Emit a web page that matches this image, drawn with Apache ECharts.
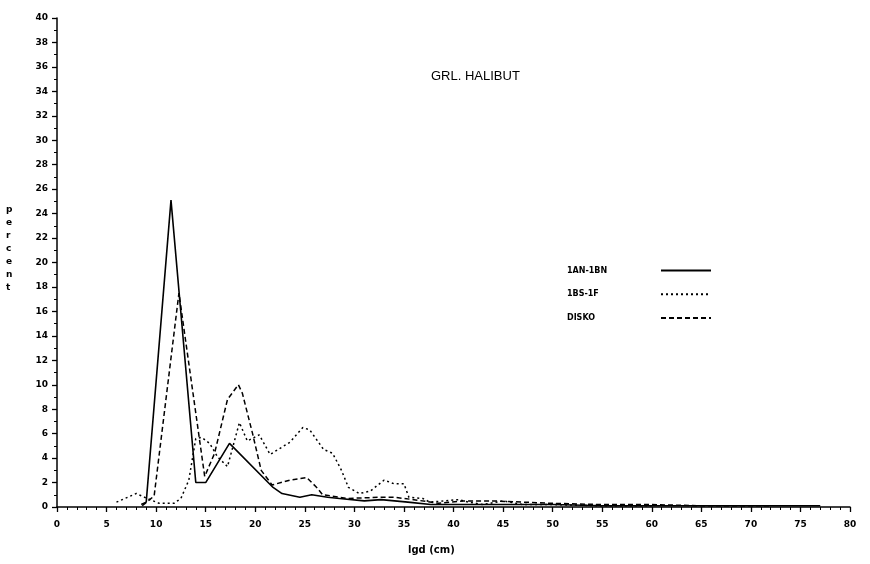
<!DOCTYPE html>
<html>
<head>
<meta charset="utf-8">
<script src="https://cdn.jsdelivr.net/npm/echarts@6/dist/echarts.min.js"></script>
<style>
  html, body { margin: 0; padding: 0; background: #fff; }
  #chart { width: 870px; height: 564px; }
</style>
</head>
<body>
<div id="chart"></div>
<script>
'use strict';

// 1AN-1BN (solid)
var lenAN = [8.5, 9.0, 11.5, 14.0, 15.0, 17.4, 21.8, 22.7, 24.5, 25.7, 27.3, 28.5, 31.0, 32.7, 35.4, 37.7, 40, 45, 50, 55, 60, 65, 70, 77];
var pctAN = [0.2, 0.4, 25.1, 2.0, 2.0, 5.2, 1.6, 1.1, 0.8, 1.0, 0.8, 0.7, 0.5, 0.6, 0.4, 0.2, 0.2, 0.2, 0.2, 0.1, 0.1, 0.1, 0.1, 0.1];

// 1BS-1F (dotted)
var lenBS = [6.0, 8.0, 9.1, 10.3, 11.8, 12.5, 13.3, 14.0, 14.6, 15.4, 16.2, 17.2, 18.4, 19.2, 20.4, 21.5, 23.5, 24.8, 25.5, 26.9, 27.8, 28.7, 29.4, 30.5, 31.6, 33.0, 34.0, 35.0, 35.5, 36.9, 37.6, 40.5, 41.5, 43.0, 45.0, 47.0, 50.0, 55.0, 60.0];
var pctBS = [0.4, 1.1, 0.7, 0.3, 0.3, 0.7, 2.2, 5.6, 5.7, 5.2, 4.1, 3.3, 6.9, 5.4, 5.9, 4.3, 5.3, 6.5, 6.3, 4.7, 4.4, 3.0, 1.6, 1.1, 1.3, 2.2, 1.9, 1.9, 0.8, 0.7, 0.4, 0.6, 0.4, 0.2, 0.5, 0.2, 0.2, 0.1, 0.1];

// DISKO (dashed)
var lenDI = [8.6, 9.8, 12.3, 14.9, 15.9, 17.2, 18.3, 18.7, 19.7, 20.6, 21.7, 23.5, 25.2, 26.2, 26.8, 29.3, 32.7, 34.0, 36.0, 38.5, 41.0, 44.0, 47.0, 50.0, 55.0, 60.0, 65.0, 72.0];
var pctDI = [0.1, 0.9, 17.5, 2.5, 4.4, 8.8, 10.0, 9.3, 6.1, 3.0, 1.8, 2.2, 2.4, 1.6, 1.0, 0.7, 0.8, 0.8, 0.6, 0.3, 0.5, 0.5, 0.4, 0.3, 0.2, 0.2, 0.1, 0.1];

function pairs(xs, ys) {
    var out = [];
    for (var i = 0; i < xs.length; i++) {
        out.push([xs[i], ys[i]]);
    }
    return out;
}

var labelFont = {
    color: '#000',
    fontFamily: 'DejaVu Sans',
    fontWeight: 'bold',
    fontSize: 9
};

var myChart = echarts.init(document.getElementById('chart'));

var option = {
    backgroundColor: '#fff',
    animation: false,
    grid: { left: 57, right: 20, top: 18, bottom: 57 },
    title: {
        text: 'GRL. HALIBUT',
        left: 426,
        top: 65,
        textStyle: { color: '#000', fontFamily: 'Liberation Sans', fontWeight: 'normal', fontSize: 13 }
    },
    legend: {
        orient: 'vertical',
        left: 562,
        top: 260,
        align: 'right',
        itemWidth: 50,
        itemHeight: 14,
        itemGap: 12.5,
        itemStyle: { opacity: 0 },
        data: ['1AN-1BN', '1BS-1F', 'DISKO'],
        formatter: '{a|{name}}',
        textStyle: {
            color: '#000',
            fontFamily: 'DejaVu Sans',
            fontWeight: 'bold',
            fontSize: 8,
            rich: {
                a: { width: 89, align: 'left', fontFamily: 'DejaVu Sans', fontWeight: 'bold', fontSize: 8, color: '#000' }
            }
        }
    },
    xAxis: {
        type: 'value',
        min: 0,
        max: 80,
        interval: 5,
        axisLine: { lineStyle: { color: '#000', width: 1.5 } },
        axisTick: { length: 5, lineStyle: { color: '#000', width: 1.3 } },
        minorTick: { show: true, splitNumber: 5, length: 3, lineStyle: { color: '#000' } },
        axisLabel: Object.assign({ margin: 13 }, labelFont),
        splitLine: { show: false }
    },
    yAxis: {
        type: 'value',
        min: 0,
        max: 40,
        interval: 2,
        axisLine: { show: true, lineStyle: { color: '#000', width: 1.5 } },
        axisTick: { show: true, length: 5, lineStyle: { color: '#000', width: 1.3 } },
        minorTick: { show: true, splitNumber: 2, length: 3, lineStyle: { color: '#000' } },
        axisLabel: Object.assign({ margin: 9 }, labelFont),
        splitLine: { show: false }
    },
    graphic: [{
        type: 'text',
        left: 6,
        top: 203,
        style: {
            text: 'p\ne\nr\nc\ne\nn\nt',
            fill: '#000',
            font: 'bold 9px "DejaVu Sans"',
            lineHeight: 13,
            align: 'center'
        }
    }, {
        type: 'text',
        left: 408,
        top: 545,
        style: {
            text: 'lgd (cm)',
            fill: '#000',
            font: 'bold 10px "DejaVu Sans"'
        }
    }],
    series: [{
        name: '1AN-1BN',
        type: 'line',
        symbol: 'none',
        data: pairs(lenAN, pctAN),
        lineStyle: { color: '#000', width: 1.6, type: 'solid' },
        itemStyle: { color: '#000' }
    }, {
        name: '1BS-1F',
        type: 'line',
        symbol: 'none',
        data: pairs(lenBS, pctBS),
        lineStyle: { color: '#000', width: 1.5, type: [2, 3] },
        itemStyle: { color: '#000' }
    }, {
        name: 'DISKO',
        type: 'line',
        symbol: 'none',
        data: pairs(lenDI, pctDI),
        lineStyle: { color: '#000', width: 1.5, type: [5, 3] },
        itemStyle: { color: '#000' }
    }]
};

myChart.setOption(option);
</script>
</body>
</html>
